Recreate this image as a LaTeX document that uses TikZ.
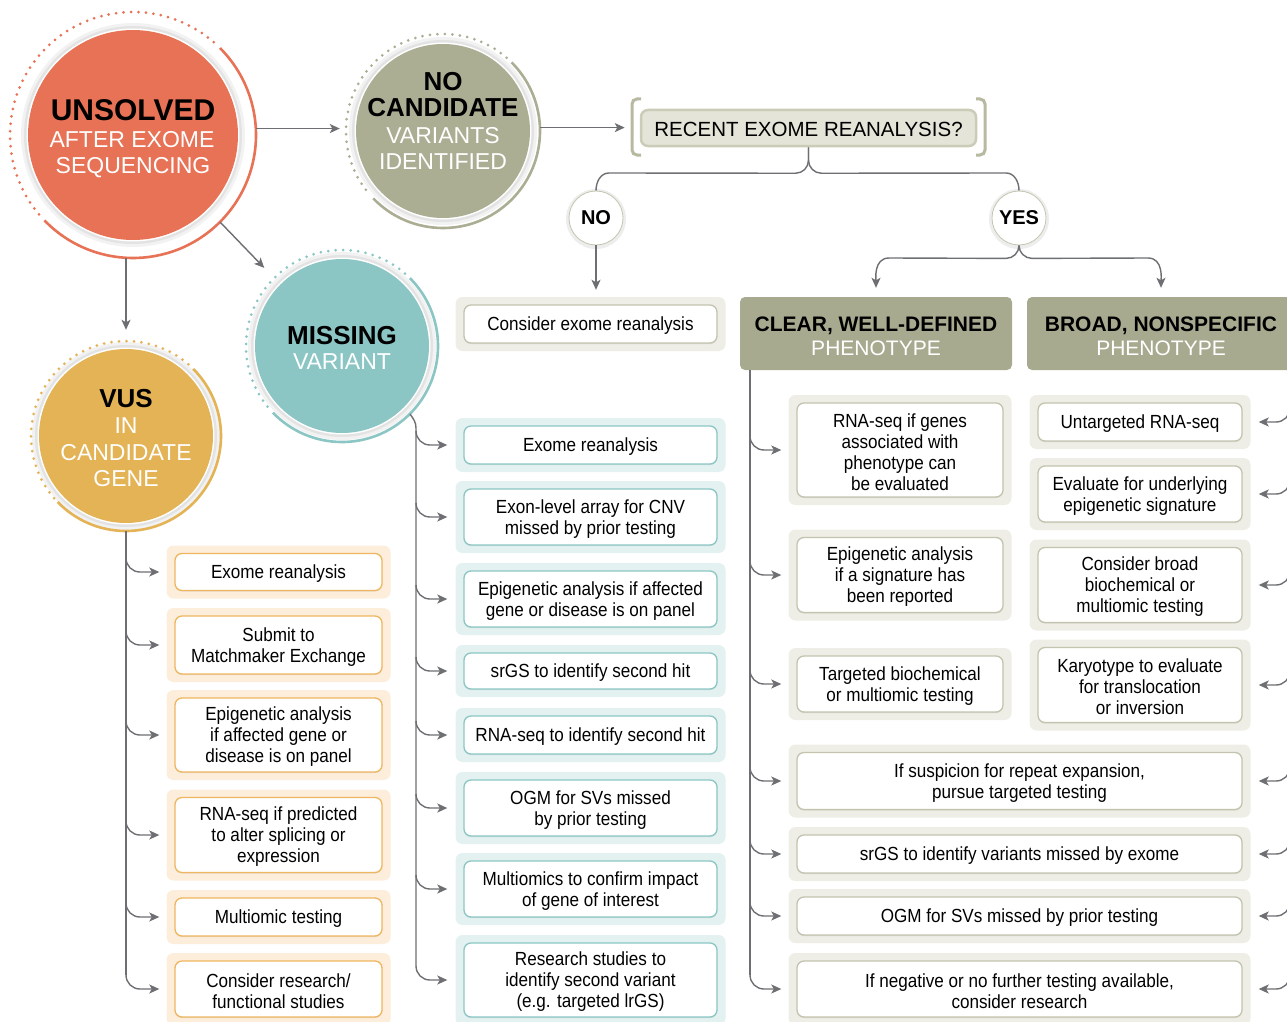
\documentclass[tikz,border=0pt]{standalone}
\usepackage{fontspec}
\setmainfont{Liberation Sans}
\newfontfamily\condfont[FakeStretch=0.9]{Liberation Sans}
\usetikzlibrary{arrows.meta,calc,shadows}
\definecolor{unsC}{HTML}{E87256}
\definecolor{nocC}{HTML}{ACAE94}
\definecolor{misC}{HTML}{8BC6C4}
\definecolor{vusC}{HTML}{E3B356}
\definecolor{orPad}{HTML}{FDEEDB}
\definecolor{orBorder}{HTML}{EFB660}
\definecolor{tePad}{HTML}{E3F1F1}
\definecolor{teBorder}{HTML}{8BC6C4}
\definecolor{grPad}{HTML}{EEEEE7}
\definecolor{grBorder}{HTML}{C3C3AE}
\definecolor{hdrC}{HTML}{A8AA90}
\definecolor{lineC}{HTML}{6E6F72}
\definecolor{brkC}{HTML}{B8B9A1}
\definecolor{recFill}{HTML}{E4E4D8}
\definecolor{recBorder}{HTML}{CBCCB8}
\definecolor{ynBorder}{HTML}{C5C6B0}
\tikzset{
  lineg/.style={draw=lineC, line width=1.4pt},
  arr/.style={lineg, -{Stealth[length=10pt,width=9pt,inset=2.5pt]}},
  boxtext/.style={align=center, inner sep=0pt, text=black, font=\condfont\fontsize{19}{21}\selectfont},
  orpad/.style={fill=orPad, rounded corners=7pt, inner sep=0pt},
  orbox/.style={draw=orBorder, fill=white, line width=1.3pt, rounded corners=7pt, inner sep=0pt,
    drop shadow={shadow xshift=0pt, shadow yshift=-1pt, opacity=0.18}},
  tepad/.style={fill=tePad, rounded corners=7pt, inner sep=0pt},
  tebox/.style={draw=teBorder, fill=white, line width=1.3pt, rounded corners=7pt, inner sep=0pt,
    drop shadow={shadow xshift=0pt, shadow yshift=-1pt, opacity=0.18}},
  grpad/.style={fill=grPad, rounded corners=7pt, inner sep=0pt},
  grbox/.style={draw=grBorder, fill=white, line width=1.3pt, rounded corners=7pt, inner sep=0pt,
    drop shadow={shadow xshift=0pt, shadow yshift=-1pt, opacity=0.18}},
  hdr/.style={fill=hdrC, rounded corners=5pt, inner sep=0pt},
  hdrtext/.style={align=center, inner sep=0pt, font=\fontsize{21}{24}\selectfont},
  yn/.style={circle, minimum size=54pt, inner sep=0pt, fill=white, draw=ynBorder, line width=0.8pt, font=\bfseries\fontsize{20}{20}\selectfont},
  cbold/.style={anchor=base, text=black, font=\bfseries\fontsize{26}{26}\selectfont},
  creg/.style={anchor=base, text=white, font=\fontsize{23}{23}\selectfont},
}
\newcommand\mkbox[7]{%
  \node[#2pad, minimum width=#5pt+17pt, minimum height=#6pt+16pt] (#1p) at (#3,#4) {};
  \node[#2box, minimum width=#5pt, minimum height=#6pt] (#1) at (#3,#4) {};
  \node[boxtext] (#1t) at ($(#1.center)+(0,2)$) {#7};}
\newcommand\mkcircle[6]{%
  \fill[black!5] (#2,#3) circle[radius=#4pt+7pt];
  \fill[black!11] (#2,#3) circle[radius=#4pt+4pt];
  \fill[white] (#2,#3) circle[radius=#4pt+1.5pt];
  \fill[#6] (#2,#3) circle[radius=#4pt];
  \draw[#6, line width=2.6pt] ([shift={(224:#5pt)}]#2,#3) arc[start angle=224,end angle=405,radius=#5pt];
  \draw[#6, line width=3pt, line cap=round, dash pattern=on 0pt off 7.5pt] ([shift={(49:#5pt)}]#2,#3) arc[start angle=49,end angle=221,radius=#5pt];
  \node[circle, minimum size=2*#5pt, inner sep=0pt] (#1) at (#2,#3) {};}
\newcommand\lbranch[3]{\draw[arr, shorten >=#3] ($(#1 |- #2.center)+(0,-14)$) to[out=-90,in=180] ++(14,14) -- (#2p.west);}
\newcommand\rbranch[2]{\draw[arr, shorten >=8pt] ($(#1 |- #2.center)+(0,-14)$) to[out=-90,in=0] ++(-14,14) -- (#2p.east);}
\begin{document}
\begin{tikzpicture}[x=1pt,y=-1pt]
\useasboundingbox (0,0) rectangle (1287,1022);
\clip (0,0) rectangle (1287,1022);
\fill[white] (0,0) rectangle (1287,1022);

% circles
\mkcircle{uns}{133}{135}{105}{123}{unsC}
\mkcircle{noc}{443}{131}{87}{97}{nocC}
\mkcircle{mis}{342}{346}{87}{96}{misC}
\mkcircle{vus}{126}{436}{87}{95}{vusC}

\node[cbold, font=\bfseries\fontsize{30}{30}\selectfont] (u1) at (133,121) {UNSOLVED};
\node[creg] (u2) at (132,147) {AFTER EXOME};
\node[creg] (u3) at (133,173) {SEQUENCING};

\node[cbold] (n1) at (443,91) {NO};
\node[cbold] (n2) at (443,117) {CANDIDATE};
\node[creg] (n3) at (443,143) {VARIANTS};
\node[creg] (n4) at (443,169) {IDENTIFIED};

\node[cbold] (m1) at (342,344) {MISSING};
\node[creg] (m2) at (342,369) {VARIANT};

\node[cbold] (v1) at (126,407) {VUS};
\node[creg] (v2) at (126,433) {IN};
\node[creg] (v3) at (126,460) {CANDIDATE};
\node[creg] (v4) at (126,486) {GENE};

% recent box with brackets
\node[draw=recBorder, fill=recFill, line width=2.5pt, rounded corners=7pt, minimum width=335pt, minimum height=36pt, inner sep=0pt] (recent) at (808.5,128) {};
\node[inner sep=0pt, font=\fontsize{20.5}{24}\selectfont] (recentt) at ($(recent.center)+(0,1)$) {RECENT EXOME REANALYSIS?};
\draw[brkC, line width=3pt] (641,99) -- (637,99) to[out=180,in=90] (632,104) -- (632,150) to[out=-90,in=180] (637,155) -- (641,155);
\draw[brkC, line width=3pt] (976,99) -- (980,99) to[out=0,in=90] (985,104) -- (985,150) to[out=-90,in=0] (980,155) -- (976,155);

% NO / YES
\fill[black!7] (596,219) circle[radius=30pt];
\fill[black!7] (1019,219) circle[radius=30pt];
\node[yn] (no) at (596,218) {NO};
\node[yn] (yes) at (1019,218) {YES};
\coordinate (brc) at (808,173);
\draw[lineg] (recent.south) -- ++(0,13) to[out=-90,in=0] ++(-13,13) -- ($(no.north |- brc)+(13,0)$) to[out=180,in=90] (no.north);
\draw[lineg] (recent.south) -- ++(0,13) to[out=-90,in=180] ++(13,13) -- ($(yes.north |- brc)+(-13,0)$) to[out=0,in=90] (yes.north);

% headers
\node[hdr, minimum width=272pt, minimum height=73pt] (clear) at (876,333.5) {};
\node[hdrtext] (cleart) at ($(clear.center)+(0,3)$) {\textbf{CLEAR, WELL-DEFINED}\\\textcolor{white}{PHENOTYPE}};
\node[hdr, minimum width=268pt, minimum height=73pt] (broad) at (1161,333.5) {};
\node[hdrtext] (broadt) at ($(broad.center)+(0,3)$) {\textbf{BROAD, NONSPECIFIC}\\\textcolor{white}{PHENOTYPE}};
\coordinate (yb) at (1019,258);
\draw[arr, shorten >=9pt] (yes.south) to[out=-90,in=0] ++(-13,13) -- ($(clear.north |- yb)+(13,0)$) to[out=180,in=90] (clear.north);
\draw[arr, shorten >=9pt] (yes.south) to[out=-90,in=180] ++(13,13) -- ($(broad.north |- yb)+(-13,0)$) to[out=0,in=90] (broad.north);

% NO branch
\mkbox{cons}{gr}{590.5}{324}{253}{38}{Consider exome reanalysis}
\draw[arr, shorten >=7pt] (no.south) -- (no.south |- consp.north);

% VUS column
\mkbox{o1}{or}{278.5}{572}{207}{37}{Exome reanalysis}
\mkbox{o2}{or}{278.5}{645}{207}{58}{Submit to\\Matchmaker Exchange}
\mkbox{o3}{or}{278.5}{735}{207}{74}{Epigenetic analysis\\if affected gene or\\disease is on panel}
\mkbox{o4}{or}{278.5}{835}{207}{75}{RNA-seq if predicted\\to alter splicing or\\expression}
\mkbox{o5}{or}{278.5}{917}{207}{38}{Multiomic testing}
\mkbox{o6}{or}{278.5}{989}{207}{56}{Consider research/\\functional studies}

% MISSING column
\mkbox{t1}{te}{590.5}{445}{253}{38}{Exome reanalysis}
\mkbox{t2}{te}{590.5}{517}{253}{56}{Exon-level array for CNV\\missed by prior testing}
\mkbox{t3}{te}{590.5}{599}{253}{56}{Epigenetic analysis if affected\\gene or disease is on panel}
\mkbox{t4}{te}{590.5}{671}{253}{36}{srGS to identify second hit}
\mkbox{t5}{te}{590.5}{735}{253}{38}{RNA-seq to identify second hit}
\mkbox{t6}{te}{590.5}{808}{253}{56}{OGM for SVs missed\\by prior testing}
\mkbox{t7}{te}{590.5}{889}{253}{56}{Multiomics to confirm impact\\of gene of interest}
\mkbox{t8}{te}{590.5}{980}{253}{74}{Research studies to\\identify second variant\\(e.g. targeted lrGS)}

% CLEAR column
\mkbox{c1}{gr}{900}{450}{206}{94}{RNA-seq if genes\\associated with\\phenotype can\\be evaluated}
\mkbox{c2}{gr}{900}{575}{206}{75}{Epigenetic analysis\\if a signature has\\been reported}
\mkbox{c3}{gr}{900}{684}{206}{56}{Targeted biochemical\\or multiomic testing}

% BROAD column
\mkbox{b1}{gr}{1140}{422}{204}{38}{Untargeted RNA-seq}
\mkbox{b2}{gr}{1140}{494}{204}{56}{Evaluate for underlying\\epigenetic signature}
\mkbox{b3}{gr}{1140}{585}{204}{75}{Consider broad\\biochemical or\\multiomic testing}
\mkbox{b4}{gr}{1140}{685}{204}{75}{Karyotype to evaluate\\for translocation\\or inversion}

% wide boxes
\mkbox{w1}{gr}{1019.5}{781}{445}{57}{If suspicion for repeat expansion,\\pursue targeted testing}
\mkbox{w2}{gr}{1019.5}{854}{445}{38}{srGS to identify variants missed by exome}
\mkbox{w3}{gr}{1019.5}{916}{445}{38}{OGM for SVs missed by prior testing}
\mkbox{w4}{gr}{1019.5}{989}{445}{56}{If negative or no further testing available,\\consider research}

% main connectors
\draw[arr, shorten >=6pt] (uns.3) -- (uns.3 -| noc.west);
\draw[arr, shorten >=15pt] (noc.2) -- (noc.2 -| recent.west);
\draw[arr, shorten >=14pt] (uns.-45) -- (mis.135);
\draw[arr, shorten >=11pt] (vus.north |- uns.south) -- (vus.north);

% VUS trunk
\coordinate (vt) at (126,531);
\draw[lineg] (vus.south) -- ($(vt |- o6.center)+(0,-14)$);
\lbranch{vt}{o1}{7pt}
\lbranch{vt}{o2}{7pt}
\lbranch{vt}{o3}{7pt}
\lbranch{vt}{o4}{7pt}
\lbranch{vt}{o5}{7pt}
\lbranch{vt}{o6}{7pt}

% MISSING trunk
\coordinate (mt) at (416,428);
\draw[lineg] (mis.-45) to[out=-55,in=90] (mt) -- ($(mt |- t8.center)+(0,-14)$);
\lbranch{mt}{t1}{8pt}
\lbranch{mt}{t2}{8pt}
\lbranch{mt}{t3}{8pt}
\lbranch{mt}{t4}{8pt}
\lbranch{mt}{t5}{8pt}
\lbranch{mt}{t6}{8pt}
\lbranch{mt}{t7}{8pt}
\lbranch{mt}{t8}{8pt}

% CLEAR trunk
\coordinate (ct) at (750,370);
\draw[lineg] (ct) -- ($(ct |- w4.center)+(0,-14)$);
\lbranch{ct}{c1}{7pt}
\lbranch{ct}{c2}{7pt}
\lbranch{ct}{c3}{7pt}
\lbranch{ct}{w1}{7pt}
\lbranch{ct}{w2}{7pt}
\lbranch{ct}{w3}{7pt}
\lbranch{ct}{w4}{7pt}

% right side (trunk off canvas)
\coordinate (rt) at (1290,380);
\rbranch{rt}{b1}
\rbranch{rt}{b2}
\rbranch{rt}{b3}
\rbranch{rt}{b4}
\rbranch{rt}{w1}
\rbranch{rt}{w2}
\rbranch{rt}{w3}
\rbranch{rt}{w4}
\end{tikzpicture}
\end{document}
